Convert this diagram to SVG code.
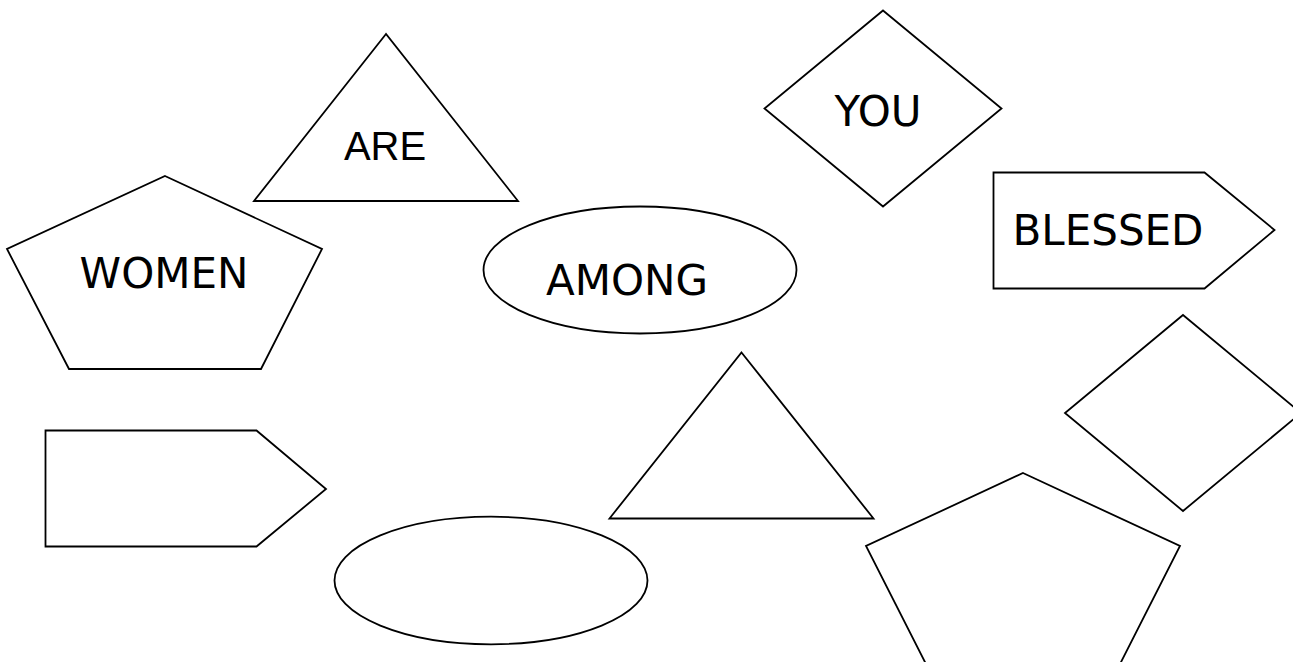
<svg xmlns="http://www.w3.org/2000/svg" width="1293" height="662" viewBox="0 0 1293 662">
<style>
.s{fill:#fff;stroke:#000;stroke-width:1.8;stroke-linejoin:miter}
.t{font-family:"DejaVu Sans",Verdana,sans-serif;font-size:42px;fill:#000;text-anchor:middle}
.a{font-family:"Liberation Sans",Arial,sans-serif;font-size:40px;fill:#000;text-anchor:middle}
</style>
<rect width="1293" height="662" fill="#fff"/>
<g id="are">
<polygon class="s" points="386,34 254,201 518,201"/>
<text class="a" x="385" y="160">ARE</text>
</g>
<g id="women">
<polygon class="s" points="165,176 322,249 261,369 69,369 7,249"/>
<text class="t" x="164" y="288">WOMEN</text>
</g>
<g id="you">
<polygon class="s" points="883,10.5 1001.5,108.5 883,206.5 764.5,108.5"/>
<text class="t" x="878" y="126">YOU</text>
</g>
<g id="blessed">
<polygon class="s" points="993.5,172.5 1204.5,172.5 1274.5,230 1204.5,288.5 993.5,288.5"/>
<text class="t" x="1108" y="245">BLESSED</text>
</g>
<g id="among">
<ellipse class="s" cx="640" cy="270" rx="156.5" ry="63.5"/>
<text class="t" x="627" y="295">AMONG</text>
</g>
<g id="arrow2">
<polygon class="s" points="45.5,430.5 256.5,430.5 326,489 256.5,546.5 45.5,546.5"/>
</g>
<g id="ellipse2">
<ellipse class="s" cx="491" cy="580.5" rx="156.5" ry="63.8"/>
</g>
<g id="triangle2">
<polygon class="s" points="741.5,352.5 873.5,518.5 609.5,518.5"/>
</g>
<g id="diamond2">
<polygon class="s" points="1183,315 1301,413 1183,511 1065,413"/>
</g>
<g id="pentagon2">
<polygon class="s" points="1023,473 1180,546 1119,666 927,666 866,546"/>
</g>
<g id="connectors"></g>
</svg>
